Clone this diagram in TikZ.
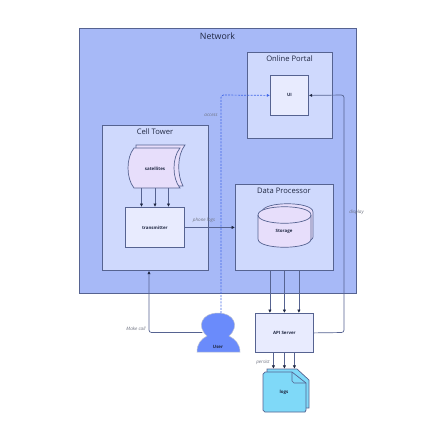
\documentclass[tikz,border=0pt]{standalone}
\usepackage{fontspec}
\setmainfont{Open Sans}
\usetikzlibrary{arrows.meta}
\definecolor{edgec}{HTML}{566391}
\definecolor{netf}{HTML}{A7B9F7}
\definecolor{groupf}{HTML}{CFD9FD}
\definecolor{leaff}{HTML}{E8EBFE}
\definecolor{purf}{HTML}{E7DEFB}
\definecolor{userf}{HTML}{6A8BFB}
\definecolor{logf}{HTML}{7FD9F8}
\definecolor{dashc}{HTML}{3F66E8}
\definecolor{labc}{HTML}{6E7280}
\definecolor{txt}{HTML}{1F2742}
\tikzset{
  boxn/.style={draw=edgec,line width=0.8pt,inner sep=0pt,text=txt},
  ttl/.style={text=txt,font=\fontsize{7.6}{8}\selectfont},
  lbl/.style={text=txt,font=\fontsize{4.4}{5}\selectfont\bfseries,inner sep=0pt},
  elab/.style={text=labc,font=\fontsize{4.6}{5}\selectfont\itshape,inner sep=0pt},
  conn/.style={draw=edgec,line width=0.7pt,-{Latex[length=3.4pt,width=3.4pt,color=txt]},rounded corners=2.5pt},
  dconn/.style={draw=dashc,line width=0.7pt,dash pattern=on 2pt off 1.2pt,-{Latex[length=3.2pt,width=3.2pt]},rounded corners=2.5pt},
  shp/.style={draw=edgec,line width=0.7pt}
}
\begin{document}
\begin{tikzpicture}[x=1pt,y=-1pt]
\useasboundingbox (0,0) rectangle (442,440);
\fill[white] (0,0) rectangle (442,440);
% containers
\node[boxn,fill=netf,minimum width=277pt,minimum height=265pt,anchor=north west] (network) at (79,28) {};
\node[ttl,font=\fontsize{8.8}{9}\selectfont] (networkt) at (217.5,36) {Network};
\node[boxn,fill=groupf,minimum width=85pt,minimum height=86pt,anchor=north west] (portal) at (247,52) {};
\node[ttl] (portalt) at (289.5,58.5) {Online Portal};
\node[boxn,fill=leaff,minimum width=38pt,minimum height=40pt,anchor=north west] (ui) at (270,75) {};
\node[lbl] at (ui) {UI};
\node[boxn,fill=groupf,minimum width=106pt,minimum height=145pt,anchor=north west] (tower) at (102,125) {};
\node[ttl] (towert) at (155,131.5) {Cell Tower};
\node[boxn,fill=groupf,minimum width=98pt,minimum height=86pt,anchor=north west] (proc) at (235,184) {};
\node[ttl] (proct) at (284,191) {Data Processor};
% satellites
\draw[shp,fill=purf] (136,145) -- (185,145) .. controls (177,155) and (177,175) .. (183,186) -- (135,186) -- cycle;
\draw[shp,fill=purf] (134,148) -- (180,148) .. controls (172,158) and (172,178) .. (180,188) -- (134,188) .. controls (126,178) and (126,158) .. (134,148) -- cycle;
\node[minimum width=52pt,minimum height=40pt,inner sep=0pt] (sat) at (155,168) {};
\node[lbl] at (155,169) {satellites};
\node[boxn,fill=leaff,minimum width=59pt,minimum height=40pt,anchor=north west] (trans) at (125,207) {};
\node[lbl] at (trans) {transmitter};
% storage
\draw[shp,fill=purf] (262,212) .. controls (262,201) and (313,201) .. (313,212) -- (313,237) .. controls (313,246) and (262,246) .. (262,237) -- cycle;
\draw[shp,fill=purf] (258,215) .. controls (258,204) and (311,204) .. (311,215) -- (311,239) .. controls (311,250) and (258,250) .. (258,239) -- cycle;
\draw[shp] (258,215) .. controls (258,226) and (311,226) .. (311,215);
\node[minimum width=53pt,minimum height=42pt,inner sep=0pt] (storage) at (284.5,226) {};
\node[lbl] at (284,231) {Storage};
% api
\node[boxn,fill=leaff,minimum width=58pt,minimum height=39pt,anchor=north west] (api) at (255,313) {};
\node[lbl] at (api) {API Server};
% logs
\draw[shp,fill=logf] (267,369) -- (297,369) -- (309,380) -- (309,408) -- (267,408) -- cycle;
\draw[shp,fill=logf] (265,372) -- (292,372) -- (306,383) -- (306,410) -- (305,412) -- (265,412) -- (263,410) -- (263,374) -- cycle;
\draw[shp] (292,372) -- (292,381) -- (294,383) -- (306,383);
\node[minimum width=46pt,minimum height=43pt,inner sep=0pt] (logs) at (286,390.5) {};
\node[lbl] at (284,392) {logs};
% user
\draw[draw=white!60!edgec,line width=0.5pt,fill=userf] (197,352) .. controls (197,344) and (201,339) .. (207,336) .. controls (196,326) and (202,313) .. (218,313) .. controls (234,313) and (240,326) .. (229,336) .. controls (235,339) and (240,344) .. (240,352) -- cycle;
\node[minimum width=44pt,minimum height=39pt,inner sep=0pt] (user) at (218.5,332.5) {};
\node[lbl] at (218,347) {User};
% connectors
\foreach \d in {-13.5,0,13.5}{
  \draw[conn] ([xshift=\d pt]sat.south) -- ([xshift=\d pt]sat.south |- trans.north);
}
\draw[conn] (trans.east) -- (proc.west |- trans.east);
\foreach \d in {-14.5,0,14.5}{
  \draw[conn] ([xshift=\d pt]api.north |- proc.south) -- ([xshift=\d pt]api.north);
}
\foreach \d in {-11,0,10}{
  \draw[conn] ([xshift=\d pt]api.south) -- ([xshift=\d pt]api.south |- logs.north);
}
\draw[conn] (api.east) -- (344,332.5) -- (344,95) -- (ui.east);
\draw[conn] (user.west) ++(6,0) -- (149,332.5) -- (tower.south -| 149,0);
\draw[dconn] (221,313) -- (221,95) -- (ui.west);
% edge labels
\node[elab] at (211,115) {access};
\node[elab] at (204,220.5) {phone logs};
\node[elab] at (356.5,212) {display};
\node[elab] at (136,329) {Make call};
\node[elab] at (263,362) {persist};
\end{tikzpicture}
\end{document}
